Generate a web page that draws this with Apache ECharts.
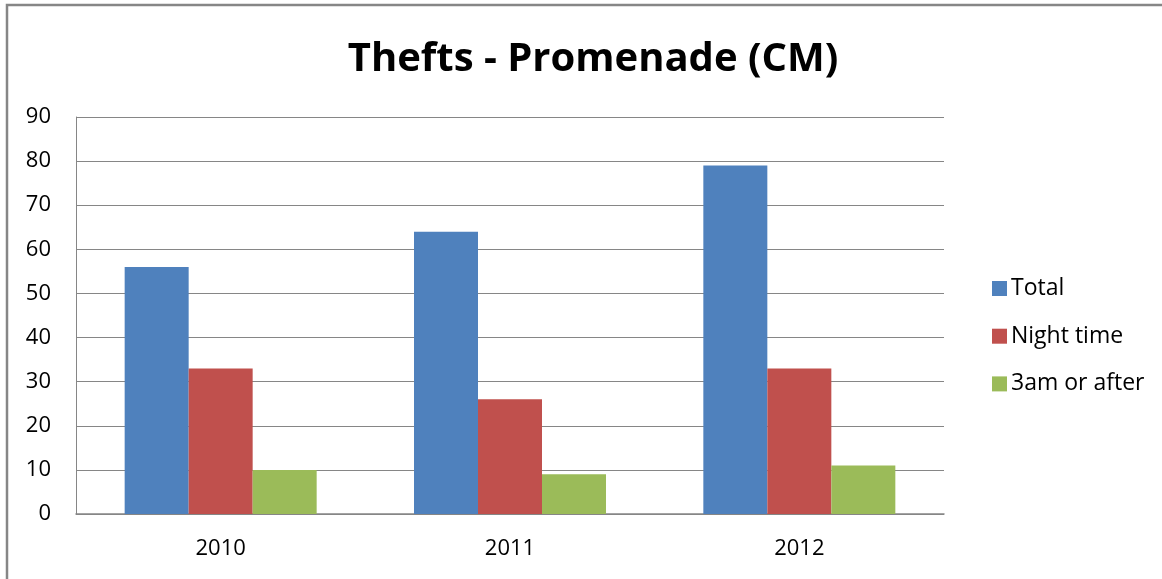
<!DOCTYPE html>
<html>
<head>
<meta charset="utf-8">
<script src="https://cdn.jsdelivr.net/npm/echarts@6/dist/echarts.min.js"></script>
<style>
  html, body { margin: 0; padding: 0; background: #fff; }
  #chart { width: 1162px; height: 579px; }
</style>
</head>
<body>
<div id="chart"></div>
<script>
// Thefts recorded on the Promenade, by year
const years = ['2010', '2011', '2012'];
const total = [56, 64, 79];
const nightTime = [33, 26, 33];
const after3am = [10, 9, 11];
const yTicks = { min: 0, max: 90, interval: 10 };

const font = '"Open Sans", "Liberation Sans", sans-serif';
const chart = echarts.init(document.getElementById('chart'), null, { renderer: 'canvas' });

chart.setOption({
  backgroundColor: '#ffffff',
  animation: false,
  graphic: [{
    type: 'rect',
    shape: { x: 7, y: 5, width: 1200, height: 700 },
    style: { fill: 'none', stroke: '#868686', lineWidth: 2.5 },
    silent: true
  }],
  title: {
    text: 'Thefts - Promenade (CM)',
    left: 588,
    textAlign: 'center',
    top: 35,
    textStyle: { fontFamily: font, fontSize: 40, fontWeight: 'bold', color: '#000' }
  },
  legend: {
    orient: 'vertical',
    left: 987,
    top: 271.5,
    itemWidth: 15,
    itemHeight: 15,
    itemGap: 23.7,
    icon: 'rect',
    textStyle: { fontFamily: font, fontSize: 23, lineHeight: 24, color: '#000', padding: [0, 0, 0, -1] },
    data: ['Total', 'Night time', '3am or after']
  },
  grid: { left: 76, right: 218, top: 117, bottom: 65, containLabel: false },
  xAxis: {
    type: 'category',
    data: years,
    axisLine: { show: true, lineStyle: { color: '#868686', width: 1.5 } },
    axisTick: { show: false },
    axisLabel: { fontFamily: font, fontSize: 22, color: '#000', margin: 24 }
  },
  yAxis: {
    type: 'value',
    min: yTicks.min,
    max: yTicks.max,
    interval: yTicks.interval,
    axisLine: { show: true, lineStyle: { color: '#868686', width: 1 } },
    axisTick: { show: false },
    axisLabel: { fontFamily: font, fontSize: 22, color: '#000', margin: 25 },
    splitLine: { show: true, lineStyle: { color: '#868686', width: 1 } }
  },
  series: [
    { name: 'Total', type: 'bar', data: total, barWidth: 64, barGap: '0%', itemStyle: { color: '#4f81bd' } },
    { name: 'Night time', type: 'bar', data: nightTime, barWidth: 64, barGap: '0%', itemStyle: { color: '#c0504d' } },
    { name: '3am or after', type: 'bar', data: after3am, barWidth: 64, barGap: '0%', itemStyle: { color: '#9bbb59' } }
  ]
});
</script>
</body>
</html>
